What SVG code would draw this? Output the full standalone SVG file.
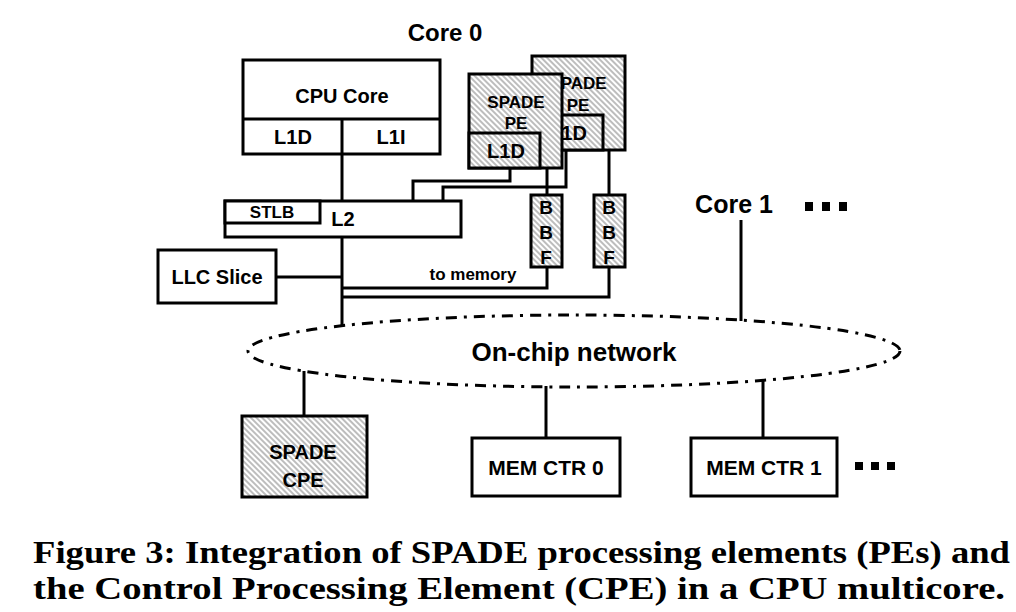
<svg xmlns="http://www.w3.org/2000/svg" width="1016" height="612" viewBox="0 0 1016 612">
<style>
.box{fill:#fff;stroke:#000;stroke-width:3}
.hbox{fill:url(#hatch);stroke:#000;stroke-width:3}
.ln{fill:none;stroke:#000;stroke-width:3}
.t{font-family:"Liberation Sans",Arial,sans-serif;font-weight:bold;fill:#000;text-anchor:middle;dominant-baseline:central}
.cap{font-family:"Liberation Serif","Times New Roman",serif;font-weight:bold;font-size:31px;fill:#000}
</style>
<defs>
<pattern id="hatch" patternUnits="userSpaceOnUse" width="4" height="4" patternTransform="rotate(45)">
<rect width="4" height="4" fill="#fff"/>
<line x1="0" y1="2" x2="4" y2="2" stroke="#9a9a9a" stroke-width="1.3"/>
</pattern>
</defs>
<rect width="1016" height="612" fill="#fff"/>

<g id="connectors">
<path class="ln" d="M342 119V327"/>
<path class="ln" d="M510 167V181H413V201"/>
<path class="ln" d="M566 150V187H443V201"/>
<path class="ln" d="M547 167V195"/>
<path class="ln" d="M609 150V195"/>
<path class="ln" d="M276 277H342"/>
<path class="ln" d="M547 267V288H342"/>
<path class="ln" d="M609 267V297H342"/>
<path class="ln" d="M741 220V321"/>
<path class="ln" d="M304 371V416"/>
<path class="ln" d="M546 386V438"/>
<path class="ln" d="M763 379V438"/>
</g>

<g id="core0-label"><text class="t" x="445" y="32" font-size="24">Core 0</text></g>

<g id="cpu-core">
<rect class="box" x="243" y="60" width="197" height="94"/>
<line class="ln" x1="243" y1="119" x2="440" y2="119"/>
<line class="ln" x1="342" y1="119" x2="342" y2="154"/>
<text class="t" x="342" y="96" font-size="20">CPU Core</text>
<text class="t" x="293" y="137" font-size="20">L1D</text>
<text class="t" x="391" y="137" font-size="20">L1I</text>
</g>

<g id="spade-pe-1">
<rect class="hbox" x="532" y="56" width="93" height="94"/>
<rect class="hbox" x="532" y="115" width="71" height="35"/>
<text class="t" x="578" y="83" font-size="17">SPADE</text>
<text class="t" x="578" y="105" font-size="17">PE</text>
<text class="t" x="568" y="133" font-size="20">L1D</text>
</g>

<g id="spade-pe-0">
<rect class="hbox" x="469" y="74" width="93" height="94"/>
<rect class="hbox" x="469" y="133" width="71" height="35"/>
<text class="t" x="516" y="102" font-size="17">SPADE</text>
<text class="t" x="516" y="123" font-size="17">PE</text>
<text class="t" x="506" y="151" font-size="20">L1D</text>
</g>

<g id="l2">
<rect class="box" x="225" y="201" width="236" height="36"/>
<rect class="box" x="225" y="201" width="95" height="22"/>
<text class="t" x="272" y="212" font-size="17">STLB</text>
<text class="t" x="343" y="219" font-size="20">L2</text>
</g>

<g id="bbf-0">
<rect class="hbox" x="531" y="195" width="31" height="72"/>
<text class="t" x="546" y="207" font-size="19">B</text>
<text class="t" x="546" y="232" font-size="19">B</text>
<text class="t" x="546" y="257" font-size="19">F</text>
</g>

<g id="bbf-1">
<rect class="hbox" x="594" y="195" width="31" height="72"/>
<text class="t" x="609" y="207" font-size="19">B</text>
<text class="t" x="609" y="232" font-size="19">B</text>
<text class="t" x="609" y="257" font-size="19">F</text>
</g>

<g id="llc-slice">
<rect class="box" x="158" y="250" width="118" height="53"/>
<text class="t" x="217" y="277" font-size="20">LLC Slice</text>
</g>

<g id="to-memory"><text class="t" x="473" y="274" font-size="17">to memory</text></g>

<g id="core1">
<text class="t" x="734" y="204" font-size="25">Core 1</text>
<rect x="805" y="202" width="8" height="9" fill="#000"/>
<rect x="822" y="202" width="8" height="9" fill="#000"/>
<rect x="839" y="202" width="8" height="9" fill="#000"/>
</g>

<g id="on-chip-network">
<ellipse cx="574" cy="351" rx="326" ry="36" fill="none" stroke="#000" stroke-width="3" stroke-dasharray="11 7 3 7"/>
<text class="t" x="574" y="352" font-size="26">On-chip network</text>
</g>

<g id="spade-cpe">
<rect class="hbox" x="242" y="416" width="125" height="81"/>
<text class="t" x="303" y="452" font-size="20">SPADE</text>
<text class="t" x="303" y="480" font-size="20">CPE</text>
</g>

<g id="mem-ctr-0">
<rect class="box" x="472" y="438" width="148" height="58"/>
<text class="t" x="546" y="467" font-size="21">MEM CTR 0</text>
</g>

<g id="mem-ctr-1">
<rect class="box" x="691" y="438" width="146" height="58"/>
<text class="t" x="764" y="467" font-size="21">MEM CTR 1</text>
<rect x="855" y="462" width="8" height="8" fill="#000"/>
<rect x="871" y="462" width="8" height="8" fill="#000"/>
<rect x="887" y="462" width="8" height="8" fill="#000"/>
</g>

<g id="caption">
<text class="cap" x="33" y="563" textLength="977" lengthAdjust="spacingAndGlyphs">Figure 3: Integration of SPADE processing elements (PEs) and</text>
<text class="cap" x="33" y="599" textLength="972" lengthAdjust="spacingAndGlyphs">the Control Processing Element (CPE) in a CPU multicore.</text>
</g>
</svg>
